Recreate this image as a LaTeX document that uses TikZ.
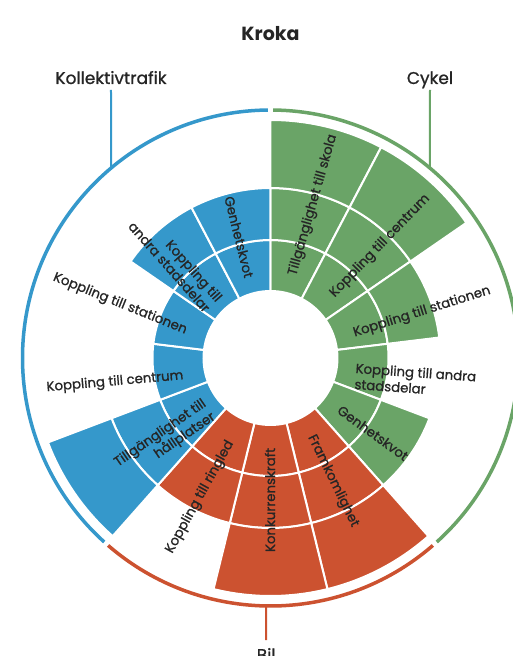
\documentclass[tikz,border=0pt]{standalone}
\usepackage{fontspec}
\setmainfont{Poppins}
\newfontfamily\lblfont{Poppins}[FakeBold=1]
\usepackage{tikz}
\definecolor{kollblue}{HTML}{3598CB}
\definecolor{cykelgreen}{HTML}{6AA467}
\definecolor{bilorange}{HTML}{CC5230}
\definecolor{textgray}{HTML}{252525}

\begin{document}
\begin{tikzpicture}[x=1pt, y=1pt,
    lbl/.style={text=textgray, inner sep=0pt, font=\lblfont\fontsize{13.3}{16}\selectfont},
    head/.style={text=textgray, anchor=base, font=\lblfont\fontsize{17}{20}\selectfont},
    ring/.style={line width=3.5pt},
    lead/.style={line width=2pt}]
    \useasboundingbox (-270.5,-298) rectangle (242.5,358);

    % sector / levels / colour
    \foreach \i/\n/\col in {0/3/cykelgreen, 1/3/cykelgreen, 2/2/cykelgreen, 3/1/cykelgreen, 4/2/cykelgreen,
        5/3/bilorange, 6/3/bilorange, 7/2/bilorange,
        8/3/kollblue, 9/1/kollblue, 10/1/kollblue, 11/2/kollblue, 12/2/kollblue}{
        \pgfmathsetmacro\a{90-\i*360/13}
        \pgfmathsetmacro\b{90-(\i+1)*360/13}
        \foreach \k/\ri/\ro in {1/67/118, 2/118/170, 3/170/238}{
            \ifnum\k>\n\relax\else
            \filldraw[fill=\col, draw=white, line width=2pt] (\a:\ri) arc[start angle=\a, end angle=\b, radius=\ri]
                -- (\b:\ro) arc[start angle=\b, end angle=\a, radius=\ro] -- cycle;
            \fi
        }
    }

    % outer rings
    \draw[ring, kollblue] (90.6:248) arc[start angle=90.6, end angle=227.9, radius=248];
    \draw[ring, bilorange] (229.1:248) arc[start angle=229.1, end angle=310.9, radius=248];
    \draw[ring, cykelgreen] (312.1:248) arc[start angle=312.1, end angle=449.4, radius=248];
    \coordinate (kollfoot) at (130:248);
    \coordinate (cykelfoot) at (50:248);
    \coordinate (bilfoot) at (-91:248);

    \node[text=textgray, anchor=base, font=\bfseries\fontsize{19}{22}\selectfont] (kroka) at (0,317) {Kroka};
    \node[head] (kollektivtrafik) at (-159.5,274) {Kollektivtrafik};
    \node[head] (cykel) at (159.5,274) {Cykel};
    \node[head] (bil) at (-4.33,-303) {Bil};
    \draw[lead, kollblue] ([yshift=-6pt]kollektivtrafik.base) -- (kollfoot);
    \draw[lead, cykelgreen] ([yshift=-6pt]cykel.base) -- (cykelfoot);
    \draw[lead, bilorange] (bilfoot) -- ([yshift=21pt]bil.base);

    % cykel
    \node[lbl, rotate=74] (skola) at (42.5,153) {Tillgänglighet till skola};
    \node[lbl, rotate=46] (cykelcentrum) at (109.5,112) {Koppling till centrum};
    \node[lbl, rotate=17.5] (cykelstation) at (151.5,46) {Koppling till stationen};
    \node[lbl, rotate=-4, anchor=west, align=left] (cykelandra) at (84.5,-18) {Koppling till andra\\stadsdelar};
    \node[lbl, rotate=-36] (cykelgenhet) at (102.5,-75) {Genhetskvot};
    % bil
    \node[lbl, rotate=-64] (framkomlighet) at (62.5,-123) {Framkomlighet};
    \node[lbl, rotate=90] (konkurrens) at (-0.5,-142) {Konkurrenskraft};
    \node[lbl, rotate=61] (ringled) at (-70.5,-139) {Koppling till ringled};
    % kollektivtrafik
    \node[lbl, rotate=34.6, align=right] (hallplatser) at (-105.5,-82) {Tillgänglighet till\\hållplatser};
    \node[lbl, rotate=5] (kollcentrum) at (-155.5,-24) {Koppling till centrum};
    \node[lbl, rotate=-22] (kollstation) at (-150.5,54) {Koppling till stationen};
    \node[lbl, rotate=-48.5, align=right] (kollandra) at (-95,96.5) {Koppling till\\andra stadsdelar};
    \node[lbl, rotate=-76] (kollgenhet) at (-31.5,121) {Genhetskvot};
\end{tikzpicture}
\end{document}
